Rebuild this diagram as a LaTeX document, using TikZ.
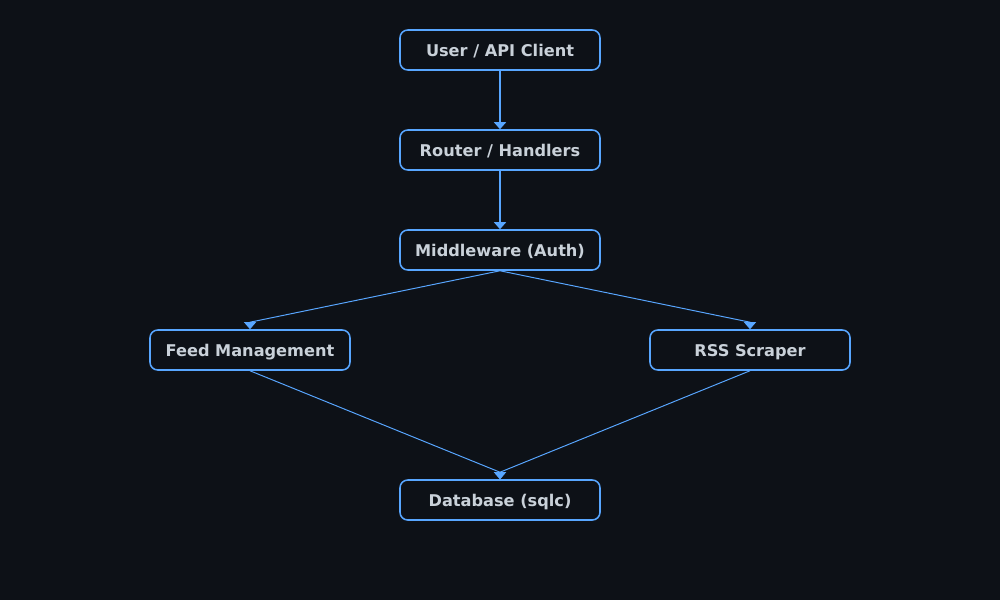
\documentclass[tikz,border=0pt]{standalone}
\usepackage{fontspec}
\setmainfont{DejaVu Sans}
\usetikzlibrary{arrows.meta,positioning}

\definecolor{bgdark}{HTML}{0D1117}
\definecolor{edgeblue}{HTML}{58A6FF}
\definecolor{textgrey}{HTML}{C9D1D9}

\tikzset{
  box/.style={draw=edgeblue,line width=1.1pt,rounded corners=5.5pt,fill=bgdark,
    minimum width=5cm,minimum height=1cm,inner sep=0pt,
    text height=11pt,text depth=1.2pt,
    text=textgrey,font=\fontsize{11.5}{13}\selectfont\bfseries},
  flow/.style={draw=edgeblue,line width=1.4pt,-{Triangle[width=8.5pt,length=5pt]}},
  branch/.style={draw=edgeblue,line width=0.7pt,-{Triangle[width=8.5pt,length=5pt]}}
}

\begin{document}
\begin{tikzpicture}[x=1cm,y=1cm]
\fill[bgdark] (0,0) rectangle (25,-15);
\useasboundingbox (0,0) rectangle (25,-15);

\node[box] (client) at (12.5,-1.25)  {User / API Client};
\node[box] (router) at (12.5,-3.75)  {Router / Handlers};
\node[box] (auth)   at (12.5,-6.25)  {Middleware (Auth)};
\node[box] (feeds)  at (6.25,-8.75)  {Feed Management};
\node[box] (rss)    at (18.75,-8.75) {RSS Scraper};
\node[box] (db)     at (12.5,-12.5)  {Database (sqlc)};

\draw[flow] (client.south) -- (router.north);
\draw[flow] (router.south) -- (auth.north);
% diagonal links end in a tip that points straight down
\draw[branch] (auth.south) -- ([yshift=5pt]feeds.north) -- (feeds.north);
\draw[branch] (auth.south) -- ([yshift=5pt]rss.north) -- (rss.north);
\draw[branch] (feeds.south) -- ([yshift=5pt]db.north) -- (db.north);
\draw[branch] (rss.south) -- ([yshift=5pt]db.north) -- (db.north);
\end{tikzpicture}
\end{document}
